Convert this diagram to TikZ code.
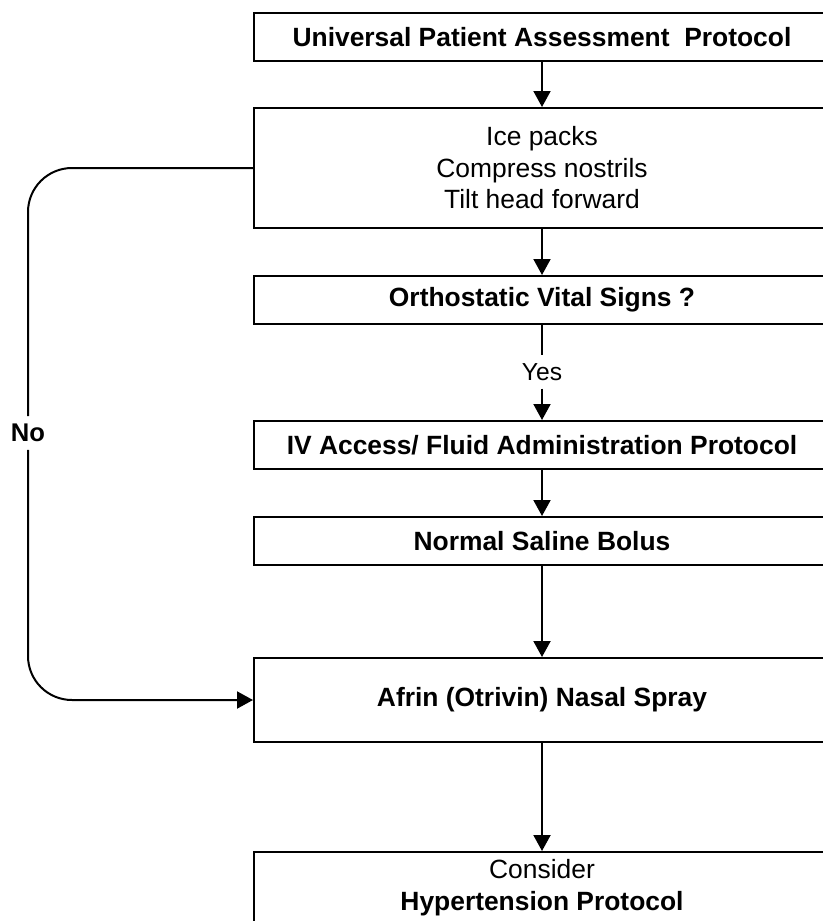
\documentclass[tikz,border=0pt]{standalone}
\usepackage{fontspec}
\setmainfont{Liberation Sans}
\usetikzlibrary{arrows.meta}
\tikzset{stepbox/.style={rectangle, draw, line width=1pt, minimum width=288pt, inner sep=0pt, align=center, font=\fontsize{13.2}{15.75}\selectfont}}
\tikzset{lbl/.style={inner sep=3.5pt, font=\fontsize{12.3}{14}\selectfont}}

\begin{document}
\begin{tikzpicture}[x=0.5pt, y=-0.5pt, line width=1pt, >={Triangle[length=8pt, width=8.5pt]}]
\useasboundingbox (0,0) rectangle (823,921);
\clip (0,0) rectangle (823,921);
\node[stepbox, minimum height=24pt] (B0) at (542,37) {\bfseries Universal Patient Assessment\ \ Protocol};
\node[stepbox, minimum height=60pt] (B1) at (542,168) {Ice packs\\Compress nostrils\\Tilt head forward};
\node[stepbox, minimum height=24pt] (B2) at (542,300) {\bfseries Orthostatic Vital Signs ?};
\node[stepbox, minimum height=24pt] (B3) at (542,445) {\bfseries IV Access/ Fluid Administration Protocol};
\node[stepbox, minimum height=24pt] (B4) at (542,541) {\bfseries Normal Saline Bolus};
\node[stepbox, minimum height=42pt] (B5) at (542,700) {\bfseries Afrin (Otrivin) Nasal Spray};
\node[stepbox, minimum height=35.5pt] (B6) at (542,887.5) {Consider\\\textbf{Hypertension Protocol}};
\node[lbl] (Yes) at (542,372) {Yes};
\node[lbl, font=\fontsize{12.8}{14}\selectfont\bfseries] (No) at (28,433) {No};
\draw[->] (B0) -- (B1);
\draw[->] (B1) -- (B2);
\draw (B2) -- (Yes);
\draw[->] (Yes) -- (B3);
\draw[->] (B3) -- (B4);
\draw[->] (B4) -- (B5);
\draw[->] (B5) -- (B6);
\draw[rounded corners=22pt] (B1.west) -| (No.north);
\draw[->, rounded corners=22pt] (No.south) |- (B5.west);
\end{tikzpicture}
\end{document}
